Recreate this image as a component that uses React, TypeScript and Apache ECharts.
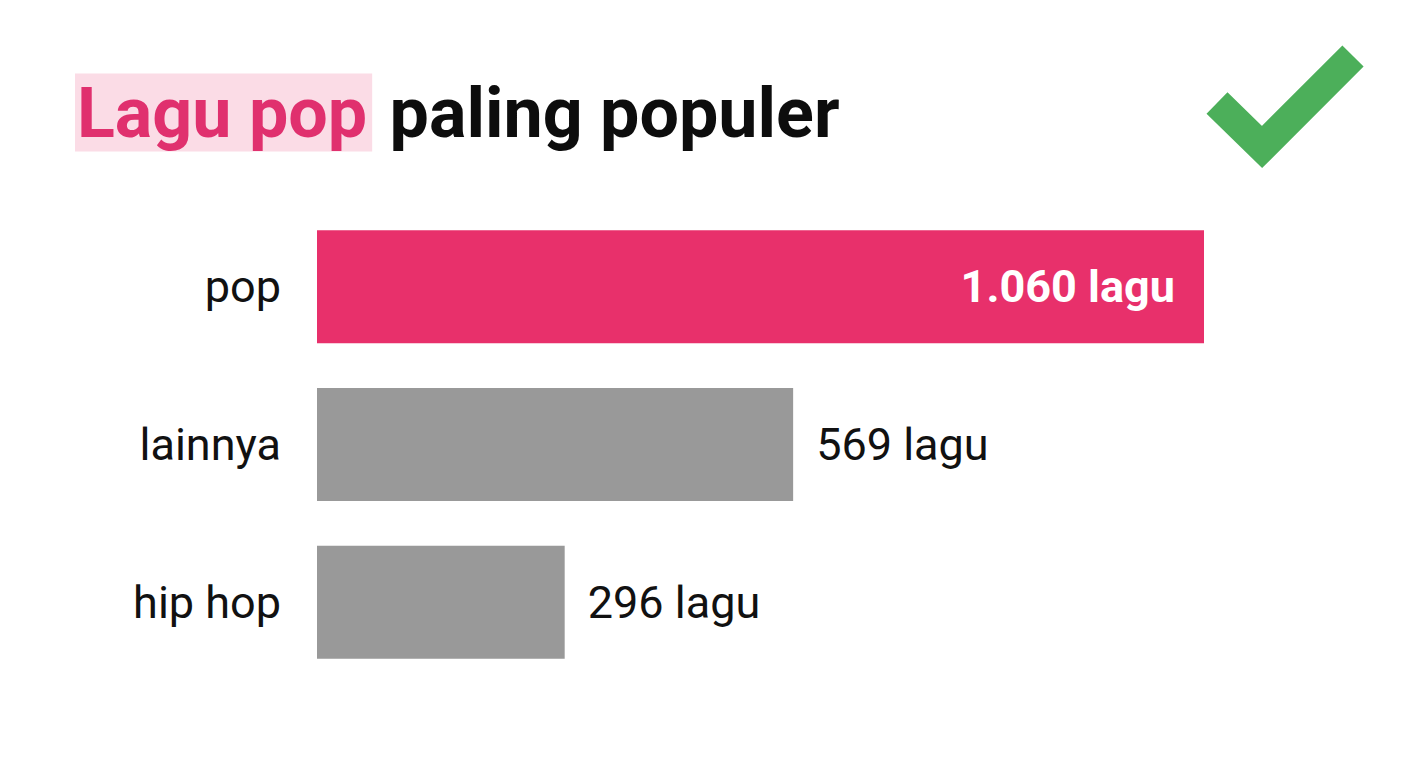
import React, { useEffect, useRef } from "react";
import * as echarts from "echarts";

const categories = ["pop", "lainnya", "hip hop"];
const songCounts = [1060, 569, 296];
const unitLabel = "lagu";
const titleHighlight = "Lagu pop";
const titleRest = "paling populer";

const PINK = "#E8306B";
const GRAY = "#999999";

function formatId(v: number): string {
  return String(v).replace(/\B(?=(\d{3})+(?!\d))/g, ".");
}

export default function App() {
  const ref = useRef<HTMLDivElement>(null);
  useEffect(() => {
    document.body.style.margin = "0";
    if (!ref.current) return;
    const chart = echarts.init(ref.current, undefined, { renderer: "svg" });
    const font = "Roboto, 'Noto Sans', sans-serif";
    chart.setOption({
      animation: false,
      backgroundColor: "#ffffff",
      textStyle: { fontFamily: font },
      title: {
        left: 75,
        top: 73,
        padding: 0,
        text: `{hl|${titleHighlight}} ${titleRest}`,
        textStyle: {
          fontFamily: font,
          fontSize: 70,
          fontWeight: "bold",
          color: "#0d0d0d",
          lineHeight: 79,
          rich: {
            hl: {
              fontFamily: font,
              fontSize: 70,
              fontWeight: "bold",
              color: "#E0306E",
              backgroundColor: "#FBDCE6",
              padding: [4, 5, 4, 2],
              lineHeight: 71,
            },
          },
        },
      },
      grid: { left: 317, right: 204, top: 208, bottom: 87, containLabel: false },
      xAxis: {
        type: "value",
        min: 0,
        max: songCounts[0],
        show: false,
      },
      yAxis: {
        type: "category",
        inverse: true,
        data: categories,
        axisLine: { show: false },
        axisTick: { show: false },
        splitLine: { show: false },
        axisLabel: {
          margin: 36,
          fontSize: 45,
          color: "#111111",
          fontFamily: font,
        },
      },
      series: [
        {
          type: "bar",
          barWidth: 113,
          data: songCounts.map((v, i) =>
            i === 0
              ? {
                  value: v,
                  itemStyle: { color: PINK },
                  label: {
                    show: true,
                    position: "insideRight",
                    distance: 29,
                    color: "#ffffff",
                    fontWeight: "bold",
                    fontSize: 45,
                    fontFamily: font,
                  },
                }
              : { value: v, itemStyle: { color: GRAY } }
          ),
          label: {
            show: true,
            position: "right",
            distance: 23,
            fontSize: 45,
            color: "#111111",
            fontFamily: font,
            formatter: (p: any) => `${formatId(p.value)} ${unitLabel}`,
          },
        },
      ],
      graphic: [
        {
          type: "polyline",
          shape: {
            points: [
              [1217, 103],
              [1262, 147],
              [1353, 56],
            ],
          },
          style: {
            stroke: "#4CAF5A",
            lineWidth: 30,
            fill: "none",
            lineCap: "butt",
            lineJoin: "miter",
          },
        },
      ],
    });
    return () => chart.dispose();
  }, []);
  return <div ref={ref} style={{ width: 1408, height: 768 }} />;
}
